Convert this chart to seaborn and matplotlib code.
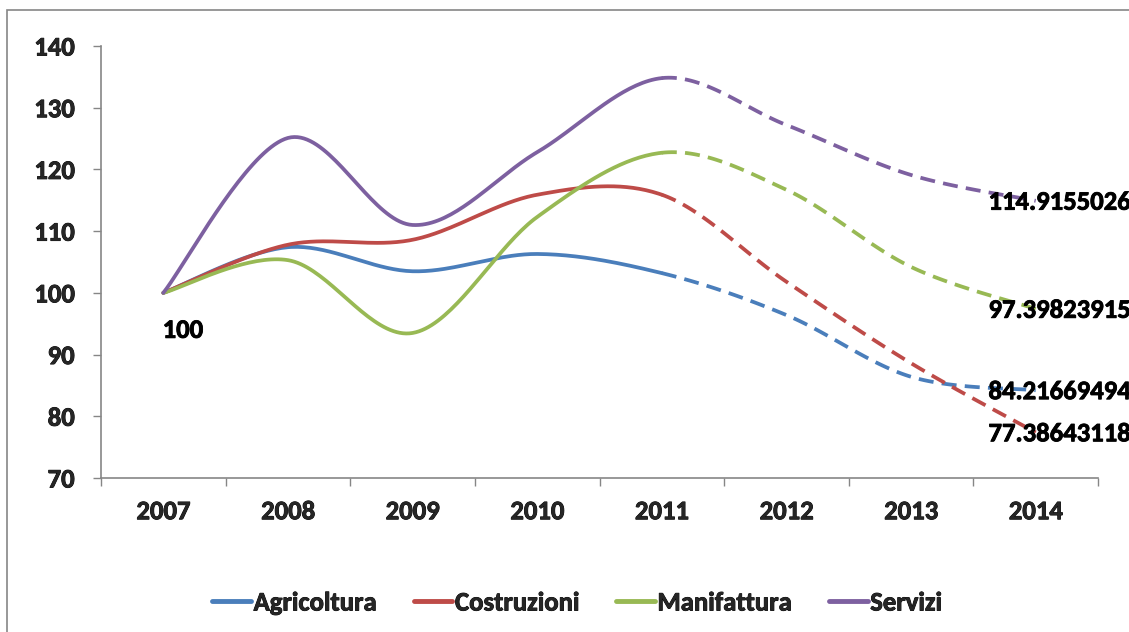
import numpy as np
import pandas as pd
import matplotlib
matplotlib.use("Agg")
import matplotlib.pyplot as plt
from matplotlib.patches import Rectangle
from matplotlib.lines import Line2D
from matplotlib import font_manager
import matplotlib.patheffects as pe
import seaborn as sns

years = ["2007", "2008", "2009", "2010", "2011", "2012", "2013", "2014"]
agricoltura = [100, 107.4, 103.5, 106.3, 103.2, 96.4, 86.4, 84.21669494]
costruzioni = [100, 107.8, 108.6, 115.9, 115.9, 101.8, 88.6, 77.38643118]
manifattura = [100, 105.3, 93.5, 112.3, 122.7, 116.7, 104.2, 97.39823915]
servizi = [100, 125.1, 111.0, 122.8, 134.8, 127.2, 119.1, 114.9155026]
series_names = ["Agricoltura", "Costruzioni", "Manifattura", "Servizi"]
end_labels = ["84.21669494", "77.38643118", "97.39823915", "114.9155026"]
start_label = "100"
yticks = [70, 80, 90, 100, 110, 120, 130, 140]
colors = ["#4A7EBB", "#BE4B48", "#98B954", "#7D60A0"]

sns.set_theme(style="white")

def _w(f):
    w = f.weight
    if isinstance(w, (int, float)):
        return int(w)
    w = str(w).lower()
    return 700 if "bold" in w or "black" in w or "heavy" in w else 400

bold_fams = {f.name for f in font_manager.fontManager.ttflist if _w(f) >= 700}
family = "DejaVu Sans"
FS = 15.5
for cand, size in [("Carlito", 19.2), ("Lato", 17), ("Open Sans", 16.5), ("Noto Sans", 16.5),
                   ("Roboto", 17), ("Liberation Sans", 16.5)]:
    if cand in bold_fams:
        family, FS = cand, size
        break
WEIGHT = 700
plt.rcParams["font.family"] = [family, "DejaVu Sans"]
plt.rcParams["font.weight"] = WEIGHT
thick = [pe.withStroke(linewidth=0.6, foreground="black")]

fig = plt.figure(figsize=(11.29, 6.32), dpi=100)
ax = fig.add_axes([101/1129, 1 - 478/632, (1098 - 101)/1129, (478 - 46)/632])

def smooth(y, n=40):
    # Excel-like smoothing: cubic Bezier with Catmull-Rom control points
    y = np.asarray(y, float)
    x = np.arange(len(y), dtype=float)
    P = np.column_stack([x, y])
    Pe = np.vstack([P[0], P, P[-1]])
    xs, ys, seg = [], [], []
    t = np.linspace(0, 1, n)
    for i in range(len(P) - 1):
        p0, p3 = P[i], P[i + 1]
        c1 = p0 + (Pe[i + 2] - Pe[i]) / 6.0
        c2 = p3 - (Pe[i + 3] - Pe[i + 1]) / 6.0
        b = ((1 - t)**3)[:, None]*p0 + (3*(1 - t)**2*t)[:, None]*c1 + (3*(1 - t)*t**2)[:, None]*c2 + (t**3)[:, None]*p3
        xs.append(b[:, 0]); ys.append(b[:, 1]); seg.append(np.full(n, i))
    return np.concatenate(xs), np.concatenate(ys), np.concatenate(seg)

all_series = [agricoltura, costruzioni, manifattura, servizi]
for name, vals, col, lab in zip(series_names, all_series, colors, end_labels):
    xs, ys, seg = smooth(vals)
    solid = seg < 4
    dashed = seg >= 4
    df1 = pd.DataFrame({"x": xs[solid], "y": ys[solid]})
    df2 = pd.DataFrame({"x": xs[dashed], "y": ys[dashed]})
    sns.lineplot(data=df1, x="x", y="y", ax=ax, color=col, lw=2.7, sort=False,
                 solid_capstyle="round", estimator=None)
    sns.lineplot(data=df2, x="x", y="y", ax=ax, color=col, lw=2.7, sort=False,
                 estimator=None)
    ax.lines[-1].set_dashes((4, 2.2))
    ax.annotate(lab, xy=(7, vals[-1]),
                xytext=(-34, -1), textcoords="offset points",
                ha="left", va="center", fontsize=FS, fontweight=WEIGHT,
                color="black", annotation_clip=False, path_effects=thick)

ax.annotate(start_label, xy=(0, agricoltura[0]), xytext=(14, -27),
            textcoords="offset points", ha="center", va="center",
            fontsize=FS, fontweight=WEIGHT, color="black", path_effects=thick)

ax.set_xlim(-0.5, 7.5)
ax.set_ylim(70, 140)
ax.set_xticks(range(len(years)))
ax.set_xticklabels(years)
ax.set_xticks(np.arange(-0.5, 8.0, 1.0), minor=True)
ax.set_yticks(yticks)
ax.set_xlabel("")
ax.set_ylabel("")
ax.tick_params(axis="x", which="major", length=0, pad=16, labelsize=FS)
ax.tick_params(axis="x", which="minor", length=6, width=1, color="#868686", direction="out", bottom=True)
ax.tick_params(axis="y", length=6, width=1, color="#868686", direction="out", left=True, pad=13, labelsize=FS)
for t in ax.get_xticklabels() + ax.get_yticklabels():
    t.set_fontweight(WEIGHT)
    t.set_path_effects(thick)
for s in ["top", "right"]:
    ax.spines[s].set_visible(False)
for s in ["left", "bottom"]:
    ax.spines[s].set_color("#868686")
    ax.spines[s].set_linewidth(1.2)
if ax.get_legend():
    ax.get_legend().remove()

handles = [Line2D([0], [0], color=c, lw=3.5, solid_capstyle="round") for c in colors]
leg = fig.legend(handles, series_names, loc="center", bbox_to_anchor=(577/1129, 1 - 603/632),
                 ncol=4, frameon=False, handlelength=1.45, handletextpad=0.1,
                 columnspacing=1.4, prop={"weight": WEIGHT, "size": FS, "family": [family, "DejaVu Sans"]})
for t in leg.get_texts():
    t.set_path_effects(thick)

fig.patches.append(Rectangle((7/1129, -0.05), 1.1, 1 - 10/632 + 0.05, transform=fig.transFigure,
                             fill=False, edgecolor="#868686", lw=1.2))

fig.savefig("out.png", dpi=100)
